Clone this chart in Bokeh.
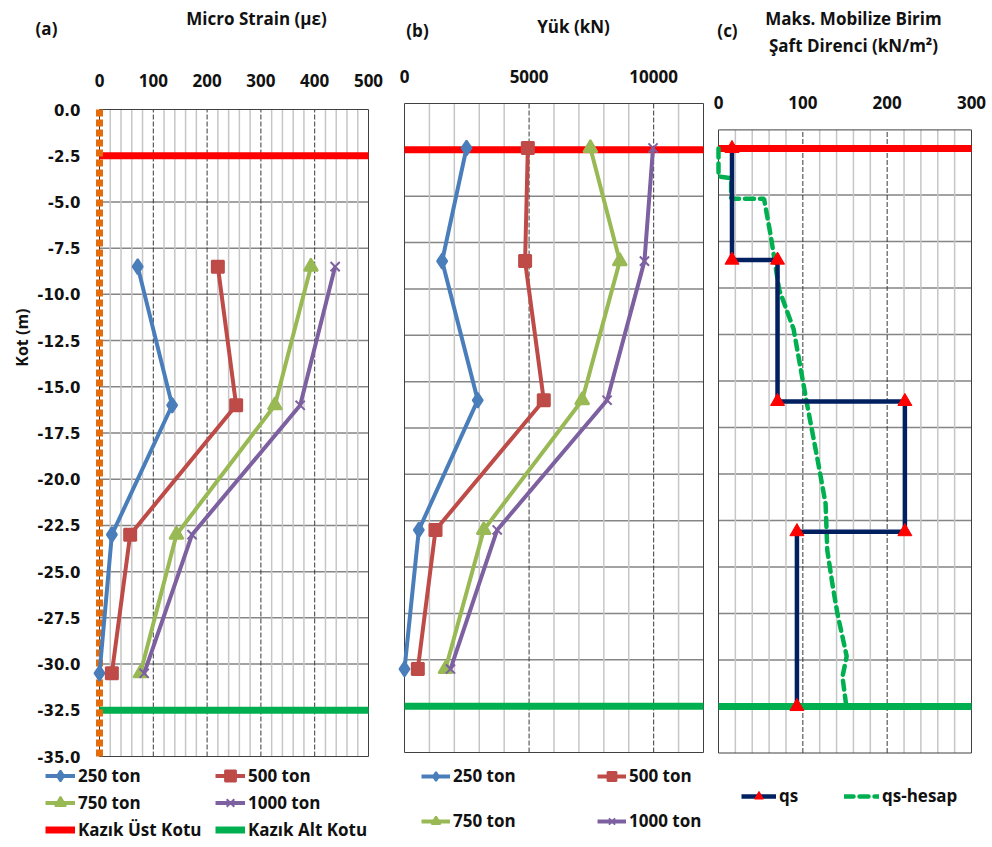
import math
from bokeh.plotting import figure
from bokeh.models import (Range1d, LinearAxis, FixedTicker, Label, Legend,
                          LegendItem, PrintfTickFormatter)
from bokeh.embed import file_html
from bokeh.resources import INLINE

# ---------------- data ----------------
# (a) micro strain vs elevation
depth_a = [-8.5, -16.0, -23.0, -30.5]
strain_250 = [71, 135, 23, 0]
strain_500 = [220, 254, 57, 23]
strain_750 = [393, 326, 143, 76]
strain_1000 = [438, 373, 172, 83]
ref_x = [0, 0]
ref_y = [0.0, -35.0]

# (b) load vs elevation
depth_b = [-2.4, -8.5, -16.0, -23.0, -30.5]
load_250 = [2490, 1510, 2940, 575, 0]
load_500 = [4950, 4840, 5590, 1245, 535]
load_750 = [7460, 8640, 7130, 3180, 1645]
load_1000 = [9975, 9630, 8130, 3720, 1845]

# (c) max mobilized unit shaft resistance
qs_x = [16, 16, 70, 70, 221, 221, 93, 93]
qs_y = [-2.5, -8.5, -8.5, -16.1, -16.1, -23.1, -23.1, -32.5]
qsh_x = [0, 0, 15, 15, 54, 62, 72, 89, 104, 119, 127, 129, 135, 141, 152, 147, 151]
qsh_y = [-2.5, -4.0, -4.1, -5.2, -5.2, -7.2, -10.1, -12.2, -16.0, -19.6, -21.6,
         -24.1, -25.9, -27.5, -29.8, -30.9, -32.3]

pile_top = -2.5      # Kazık Üst Kotu
pile_bottom = -32.5  # Kazık Alt Kotu

x_ticks_a = [0, 100, 200, 300, 400, 500]
x_ticks_b = [0, 5000, 10000]
x_ticks_c = [0, 100, 200, 300]
y_ticks = [-35 + 2.5 * i for i in range(15)]
load_labels = ["250 ton", "500 ton", "750 ton", "1000 ton"]

# ---------------- layout / style ----------------
W, H = 992, 847
C_BLUE = "#4A7EBB"
C_RED = "#BE4B48"
C_GREEN = "#98B954"
C_PURPLE = "#7D60A0"
C_TOP = "#FF0000"
C_BOT = "#00B050"
FONT = "Open Sans"
TXT = "#111111"


def xr(v0, p0, v1, p1):
    k = (p1 - p0) / (v1 - v0)
    return Range1d(v0 - p0 / k, v0 + (W - p0) / k)


def yr(v0, p0, v1, p1):
    k = (p1 - p0) / (v0 - v1)
    return Range1d(v0 - (H - p0) / k, v0 + p0 / k)


# panel boxes (data extents)
box = {
    "a": (0, 500, -35, 0),
    "b": (0, 12000, -35, 0),
    "c": (0, 300, -35, -1.5),
}

p = figure(width=W, height=H, x_range=Range1d(0, W), y_range=Range1d(0, H),
           output_backend="svg", toolbar_location=None,
           x_axis_location=None, y_axis_location=None,
           min_border_left=0, min_border_right=0, min_border_top=0, min_border_bottom=0)
p.grid.visible = False
p.outline_line_color = None
p.background_fill_color = "white"
p.border_fill_color = "white"
p.extra_x_ranges = {"a": xr(0, 99, 500, 368), "b": xr(0, 404, 12000, 703), "c": xr(0, 718, 300, 971)}
p.extra_y_ranges = {"a": yr(0, 109, -35, 756), "b": yr(0, 103, -35, 752), "c": yr(-2.5, 148, -32.5, 706)}


def rk(n):
    return dict(x_range_name=n, y_range_name=n)


def draw_grid(n, minor, major):
    x0, x1, y0, y1 = box[n]
    hs = [t for t in y_ticks if y0 < t < y1]
    p.segment(x0=[x0] * len(hs), y0=hs, x1=[x1] * len(hs), y1=hs,
              line_color="#858585", line_width=1.5, **rk(n))
    p.segment(x0=minor, y0=[y0] * len(minor), x1=minor, y1=[y1] * len(minor),
              line_color="#c6c6c6", line_width=1.5, **rk(n))
    p.segment(x0=major, y0=[y0] * len(major), x1=major, y1=[y1] * len(major),
              line_color="#3a3a3a", line_width=1, line_dash="5 2", **rk(n))
    p.quad(left=[x0], right=[x1], bottom=[y0], top=[y1], fill_color=None,
           line_color="#404040", line_width=1, **rk(n))


def top_axis(n, ticks, standoff):
    ax = LinearAxis(ticker=FixedTicker(ticks=ticks), fixed_location=box[n][3], **rk(n))
    ax.axis_line_color = None
    ax.major_tick_line_color = None
    ax.minor_tick_line_color = None
    ax.major_tick_out = 0
    ax.major_tick_in = 0
    ax.major_label_standoff = standoff
    ax.major_label_text_font = FONT
    ax.major_label_text_font_style = "bold"
    ax.major_label_text_font_size = "17px"
    ax.major_label_text_color = TXT
    p.add_layout(ax, "above")


def text(px, py, s, size="17px", angle=0.0):
    p.add_layout(Label(x=px, y=H - py, text=s, text_font=FONT, text_font_style="bold",
                       text_font_size=size, text_align="center", text_baseline="middle",
                       text_color=TXT, angle=angle))


def make_legend(items, left, bottom, gw, gh, lw, sp, ncols=None):
    kw = dict(items=items, location=(left, H - bottom), orientation="horizontal")
    if ncols:
        kw["ncols"] = ncols
    lg = Legend(**kw)
    lg.glyph_width = gw
    lg.glyph_height = gh
    lg.label_height = gh
    lg.label_width = lw
    lg.label_standoff = 3
    lg.spacing = sp
    lg.padding = 0
    lg.margin = 0
    lg.border_line_alpha = 0
    lg.background_fill_alpha = 0
    lg.label_text_font = FONT
    lg.label_text_font_style = "bold"
    lg.label_text_font_size = "17px"
    lg.label_text_color = TXT
    p.add_layout(lg, "center")


def pile_lines(n):
    x0, x1, _, _ = box[n]
    t = p.line([x0, x1], [pile_top, pile_top], line_color=C_TOP, line_width=7, **rk(n))
    b = p.line([x0, x1], [pile_bottom, pile_bottom], line_color=C_BOT, line_width=7, **rk(n))
    return t, b


markers = [("diamond", 15), ("square", 12), ("triangle", 14), ("x", 13)]
colors = [C_BLUE, C_RED, C_GREEN, C_PURPLE]

# ---------------- panel (a) ----------------
draw_grid("a", [v for v in range(20, 500, 20) if v % 100], [100, 200, 300, 400])
top_axis("a", x_ticks_a, 23)
ya = LinearAxis(ticker=FixedTicker(ticks=y_ticks), formatter=PrintfTickFormatter(format="%.1f"),
                fixed_location=0, **rk("a"))
ya.axis_line_color = None
ya.major_tick_line_color = None
ya.minor_tick_line_color = None
ya.major_tick_out = 0
ya.major_tick_in = 0
ya.major_label_standoff = 19
ya.major_label_text_font = "DejaVu Sans"
ya.major_label_text_font_style = "bold"
ya.major_label_text_font_size = "15px"
ya.major_label_text_color = TXT
p.add_layout(ya, "left")

ra_top, ra_bot = pile_lines("a")
p.line(ref_x, ref_y, line_color="#E46C0A", line_width=7, line_dash="7 3", **rk("a"))
items_a = []
for vals, col, (mk, sz), lab in zip([strain_250, strain_500, strain_750, strain_1000],
                                    colors, markers, load_labels):
    ln = p.line(vals, depth_a, line_color=col, line_width=4, **rk("a"))
    sc = p.scatter(vals, depth_a, marker=mk, size=sz, fill_color=col, line_color=col,
                   line_width=2, **rk("a"))
    items_a.append(LegendItem(label=lab, renderers=[ln, sc]))
items_a.append(LegendItem(label="Kazık Üst Kotu", renderers=[ra_top]))
items_a.append(LegendItem(label="Kazık Alt Kotu", renderers=[ra_bot]))
make_legend(items_a, 45, 843, 30, 27, 137, 0, ncols=2)

text(46, 28, "(a)")
text(256, 18, "Micro Strain (με)")
text(21, 335, "Kot  (m)", size="16px", angle=math.pi / 2)

# ---------------- panel (b) ----------------
draw_grid("b", [v for v in range(1000, 12000, 1000) if v % 5000], [5000, 10000])
top_axis("b", x_ticks_b, 21)
pile_lines("b")
items_b = []
for vals, col, (mk, sz), lab in zip([load_250, load_500, load_750, load_1000],
                                    colors, markers, load_labels):
    ln = p.line(vals, depth_b, line_color=col, line_width=4, **rk("b"))
    sc = p.scatter(vals, depth_b, marker=mk, size=sz, fill_color=col, line_color=col,
                   line_width=2, **rk("b"))
    items_b.append(LegendItem(label=lab, renderers=[ln, sc]))
make_legend(items_b, 421, 832, 29, 22, 122, 22, ncols=2)
text(417, 30, "(b)")
text(573, 26, "Yük (kN)")

# ---------------- panel (c) ----------------
draw_grid("c", [v for v in range(20, 300, 20) if v % 100], [100, 200])
top_axis("c", x_ticks_c, 21)
pile_lines("c")
rh = p.line(qsh_x, qsh_y, line_color="#00B050", line_width=4.5, line_dash="9 6",
            line_cap="round", **rk("c"))
rq = p.line(qs_x, qs_y, line_color="#002060", line_width=4.5, **rk("c"))
rqm = p.scatter(qs_x, qs_y, marker="triangle", size=14, fill_color="#FF0000",
                line_color="#FF0000", **rk("c"))
make_legend([LegendItem(label="qs", renderers=[rq, rqm]),
             LegendItem(label="qs-hesap", renderers=[rh])], 741, 807, 35, 22, 20, 45)
text(727, 30, "(c)")
text(853, 18, "Maks. Mobilize Birim")
text(853, 45, "Şaft Direnci (kN/m²)")

open("out.html", "w").write(file_html(p, INLINE))
